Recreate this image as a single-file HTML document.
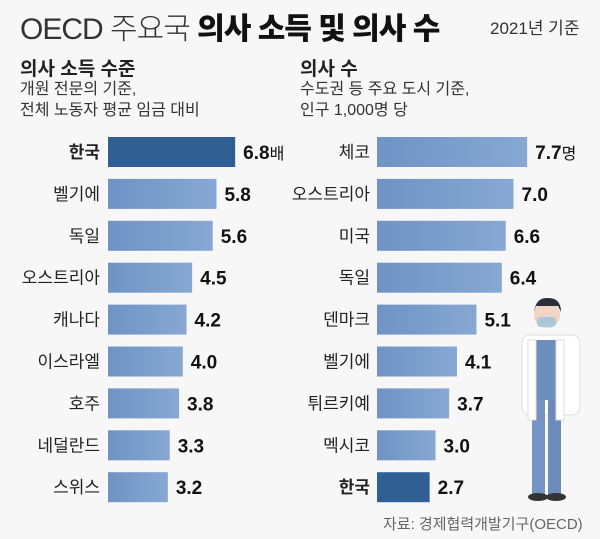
<!DOCTYPE html>
<html><head><meta charset="utf-8"><style>
body{margin:0;width:600px;height:539px;background:#f7f7f7;font-family:"Liberation Sans","Noto Sans CJK KR",sans-serif;color:#222;overflow:hidden;position:relative}
.t{position:absolute;white-space:nowrap}
</style></head><body>
<div class="t" style="left:20px;top:4px;font-size:30px;letter-spacing:-1px;font-weight:300;color:#333">OECD 주요국 <b style="font-weight:900;color:#111">의사 소득 및 의사 수</b></div>
<div class="t" style="left:490px;top:14px;font-size:17px;color:#333">2021년 기준</div>
<div class="t" style="left:20px;top:54px;font-size:19px;font-weight:bold">의사 소득 수준</div>
<div class="t" style="left:20px;top:79px;font-size:16px;line-height:21px;color:#333">개원 전문의 기준,<br>전체 노동자 평균 임금 대비</div>
<div class="t" style="left:300px;top:54px;font-size:19px;font-weight:bold">의사 수</div>
<div class="t" style="left:300px;top:79px;font-size:16px;line-height:21px;color:#333">수도권 등 주요 도시 기준,<br>인구 1,000명 당</div>
<svg id="c" width="600" height="539" style="position:absolute;left:0;top:0">
<defs><linearGradient id="g" x1="0" x2="1"><stop offset="0" stop-color="#6f93c4"/><stop offset="1" stop-color="#87a8d2"/></linearGradient></defs>
<g>
<rect x="522" y="335" width="58" height="80" rx="8" fill="#fff" stroke="#ddd"/>
<rect x="530" y="340" width="30" height="60" fill="#6d8fc0"/>
<rect x="532" y="400" width="13" height="95" fill="#7694c3"/><rect x="548" y="400" width="13" height="95" fill="#6d8bba"/>
<ellipse cx="538" cy="497" rx="10" ry="4" fill="#333"/><ellipse cx="556" cy="497" rx="10" ry="4" fill="#333"/>
<rect x="528" y="340" width="8" height="80" fill="#fff" stroke="#ddd"/><rect x="556" y="340" width="8" height="80" fill="#fff" stroke="#ddd"/>
<circle cx="547" cy="315" r="13" fill="#f2d4c4"/><path d="M534 312 Q536 297 548 298 Q561 298 561 312 L558 306 L536 306Z" fill="#2b2e3a"/>
<rect x="537" y="317" width="19" height="10" rx="4" fill="#a9c8dc"/>
</g>
</svg>
<div class="t" style="left:383px;top:513px;font-size:15px;color:#666">자료: 경제협력개발기구(OECD)</div>
<script>
const leftCategories=["한국","벨기에","독일","오스트리아","캐나다","이스라엘","호주","네덜란드","스위스"];
const leftValues=[6.8,5.8,5.6,4.5,4.2,4.0,3.8,3.3,3.2];
const leftLabels=["6.8","5.8","5.6","4.5","4.2","4.0","3.8","3.3","3.2"];
const rightCategories=["체코","오스트리아","미국","독일","덴마크","벨기에","튀르키예","멕시코","한국"];
const rightValues=[7.7,7.0,6.6,6.4,5.1,4.1,3.7,3.0,2.7];
const rightLabels=["7.7","7.0","6.6","6.4","5.1","4.1","3.7","3.0","2.7"];
const svg=document.getElementById('c');const NS="http://www.w3.org/2000/svg";
const yRow=i=>152+i*41.9;
function draw(cats,vals,labs,x0,scale,labelRight,unit,key){
 cats.forEach((c,i)=>{
  const y=yRow(i),w=vals[i]*scale,k=c==="한국";
  const r=document.createElementNS(NS,'rect');
  
  
  r.setAttribute('x',x0);r.setAttribute('y',y-15);r.setAttribute('width',w);r.setAttribute('height',30);
  r.setAttribute('fill',k?'#2f5f93':'url(#g)');svg.appendChild(r);
  const t=document.createElementNS(NS,'text');
  
  
  t.setAttribute('x',labelRight);t.setAttribute('y',y+6);t.setAttribute('text-anchor','end');
  t.setAttribute('font-size','17');if(k)t.setAttribute('font-weight','bold');t.setAttribute('fill','#222');
  t.textContent=c;svg.appendChild(t);
  const v=document.createElementNS(NS,'text');
  
  
  v.setAttribute('x',x0+w+8);v.setAttribute('y',y+7);v.setAttribute('font-size','19');v.setAttribute('font-weight','bold');v.setAttribute('fill','#111');
  v.textContent=labs[i];
  if(i===0){const u=document.createElementNS(NS,'tspan');u.setAttribute('font-weight','normal');u.setAttribute('font-size','16');u.textContent=unit;v.appendChild(u);}
  svg.appendChild(v);
 });
}
draw(leftCategories,leftValues,leftLabels,108,18.7,100,'배','income');
draw(rightCategories,rightValues,rightLabels,377,19.5,370,'명','doctors');
</script>
</body></html>
